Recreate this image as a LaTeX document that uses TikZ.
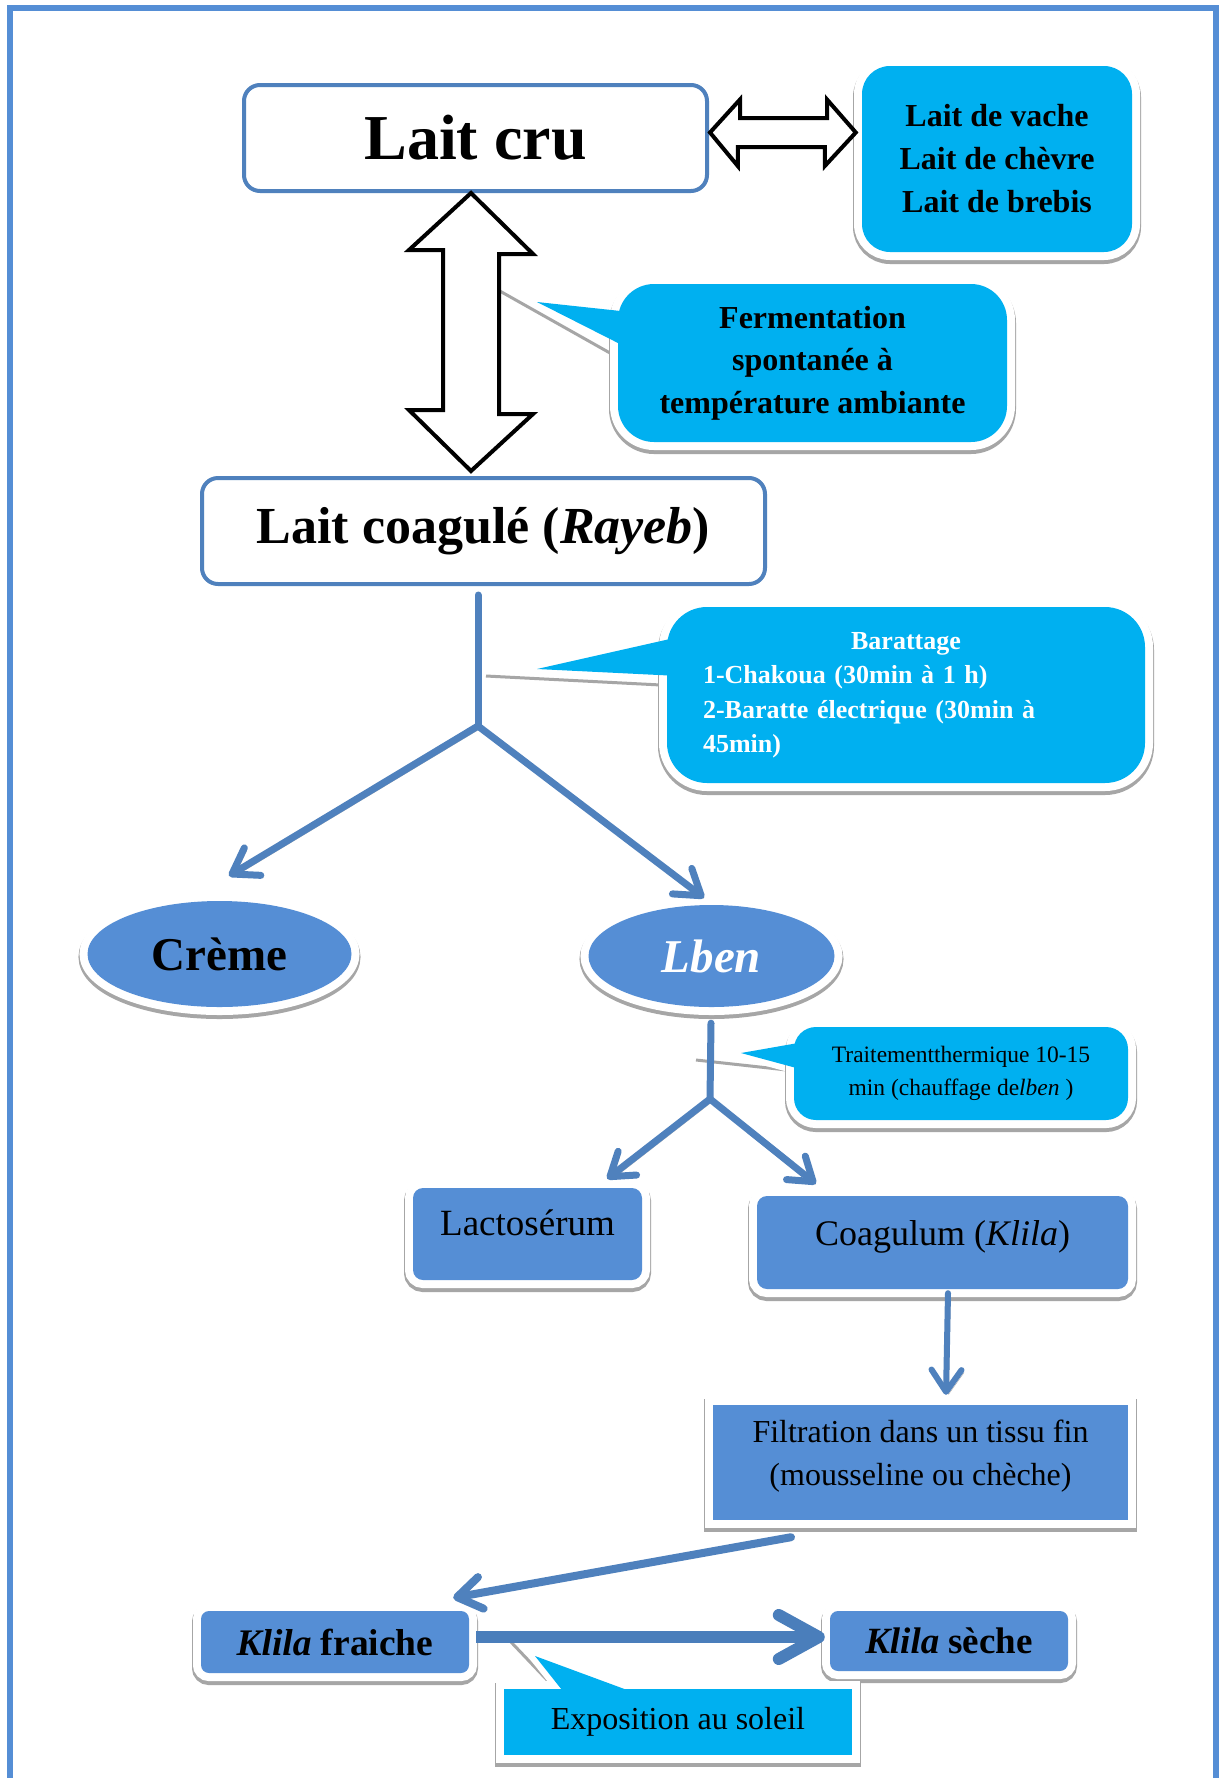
\documentclass[tikz,border=0pt]{standalone}
\usepackage{fontspec}
\setmainfont{Liberation Serif}
\usetikzlibrary{arrows.meta,calc,shapes.geometric}
\definecolor{accentblue}{HTML}{4F81BD}
\definecolor{paneblue}{HTML}{558ED5}
\definecolor{skyfill}{HTML}{00B0F0}
\definecolor{dropgray}{HTML}{A6A6A6}
\definecolor{darkline}{HTML}{4A7EBB}
\newcommand\fsz[2]{\fontsize{#1}{#2}\selectfont}
\pgfdeclarelayer{under}
\pgfsetlayers{under,main}

\begin{document}
\begin{tikzpicture}[x=1pt,y=-1pt,
  lifted/.style={
    preaction={fill=dropgray,draw=dropgray,line width=18pt,transform canvas={yshift=-3pt}},
    preaction={fill=white,draw=white,line width=16pt}},
  plainbox/.style={draw=accentblue,line width=4pt,fill=white,rounded corners=16pt,inner sep=0pt},
  skybox/.style={lifted,fill=skyfill,inner sep=0pt},
  panebox/.style={lifted,fill=paneblue,inner sep=0pt},
  hollow/.style={draw=black,line width=4pt,fill=white,line join=miter},
  flow/.style={draw=accentblue,line width=7pt,line cap=round,
    preaction={draw=dropgray,transform canvas={shift={(2.5pt,-2.5pt)}}}},
  tipsmall/.style={-{Straight Barb[length=22pt,width=30pt,round]}},
  tipmid/.style={-{Straight Barb[length=24pt,width=32pt,round]}},
  tipbig/.style={-{Straight Barb[length=40pt,width=44pt,round]}},
  wedgeglow/.style={fill=white,draw=white,line width=12pt,line join=round},
  wedgeshade/.style={draw=dropgray,line width=3pt},
  wedgefill/.style={fill=skyfill}
]
\useasboundingbox (0,0) rectangle (1219,1778);
\begin{pgfonlayer}{under}
  \fill[white] (0,0) rectangle (1219,1778);
\end{pgfonlayer}

% page frame, open at the bottom
\draw[paneblue,line width=6pt] (10,1778) -- (10,8) -- (1216,8) -- (1216,1778);

% ---------- boxes ----------
\node[plainbox,minimum width=463pt,minimum height=106pt,font=\fsz{64}{70}\bfseries]
  (laitcru) at (475.5,138) {Lait cru};
\node[skybox,rounded corners=28pt,minimum width=270pt,minimum height=186pt,
  align=center,font=\fsz{32}{43}\bfseries]
  (laits) at (997,159) {Lait de vache\\Lait de chèvre\\Lait de brebis};
\node[skybox,rounded corners=36pt,minimum width=389pt,minimum height=158pt,
  align=center,font=\fsz{32}{42.5}\bfseries]
  (ferment) at (812.5,363) {Fermentation\\spontanée à\\température ambiante};
\node[plainbox,minimum width=563pt,minimum height=106pt,font=\fsz{52}{60}\bfseries]
  (rayeb) at (483.5,531) {Lait coagulé (\textit{Rayeb})};
\node[skybox,rounded corners=40pt,minimum width=478pt,minimum height=176pt,
  align=left,text width=406pt,font=\fsz{26}{34.5}\bfseries,text=white]
  (baratt) at (906,695)
  {\makebox[406pt]{Barattage}\\1-Chakoua (30min à 1 h)\\2-Baratte électrique (30min à\\45min)};
\node[panebox,ellipse,minimum width=264pt,minimum height=106pt,font=\fsz{47}{52}\bfseries]
  (creme) at (219.5,954) {Crème};
\node[panebox,ellipse,minimum width=246pt,minimum height=102pt,font=\fsz{47}{52}\bfseries\itshape,text=white]
  (lben) at (711.5,956) {Lben};
\node[skybox,rounded corners=22pt,minimum width=334pt,minimum height=93pt,
  align=center,font=\fsz{23.5}{33}]
  (traite) at (961,1073.5) {Traitementthermique 10-15\\min (chauffage de\textit{lben} )};
\node[panebox,rounded corners=10pt,minimum width=229pt,minimum height=92pt,
  font=\fsz{37}{44},text height=25pt,text depth=23pt]
  (lacto) at (527.5,1234) {Lactosérum};
\node[panebox,rounded corners=10pt,minimum width=371pt,minimum height=93pt,
  font=\fsz{36}{44},text height=25pt,text depth=20pt]
  (coag) at (942.5,1242.5) {Coagulum (\textit{Klila})};
\node[panebox,minimum width=415pt,minimum height=115pt] (filtr) at (920.5,1462.5) {};
\node[align=center,font=\fsz{32}{43}] (filtrtext) at ($(filtr.center)+(0,-6)$)
  {Filtration dans un tissu fin\\(mousseline ou chèche)};
\node[panebox,rounded corners=8pt,minimum width=268pt,minimum height=62pt,font=\fsz{37.5}{44}\bfseries]
  (kfresh) at (335,1642) {\textit{Klila} fraiche};
\node[panebox,rounded corners=8pt,minimum width=238pt,minimum height=60pt,font=\fsz{37}{44}\bfseries]
  (kdry) at (949,1641) {\textit{Klila} sèche};
\node[skybox,minimum width=348pt,minimum height=66pt,font=\fsz{32}{40}]
  (expo) at (678,1722) {Exposition au soleil};

% ---------- hollow double arrows ----------
\coordinate (upTip) at ($(laitcru.south)+(-4.5,0)$);
\coordinate (downTip) at ($(rayeb.north)+(-12.5,-5)$);
\draw[hollow] (upTip) -- ++(62,61) -- ++(-34,0) -- ++(0,160) -- ++(34,0) -- (downTip)
  -- ++(-62,-61) -- ++(34,0) -- ++(0,-160) -- ++(-34,0) -- cycle;
\coordinate (leftTip) at ($(laitcru.east)+(1,-5.5)$);
\coordinate (rightTip) at ($(laits.west)+(-6,-26.5)$);
\draw[hollow] (leftTip) -- ++(30,-33) -- ++(0,18.5) -- ++(87,0) -- ++(0,-18.5) -- (rightTip)
  -- ++(-31,33.5) -- ++(0,-19) -- ++(-87,0) -- ++(0,19) -- cycle;

% ---------- flow connectors ----------
\coordinate (fork1) at (478,726);
\draw[flow] ($(rayeb.south)+(-5.5,9)$) -- (fork1);
\draw[flow,tipmid] (fork1) -- ($(creme.north)+(9.5,-25)$);
\draw[flow,tipmid] (fork1) -- ($(lben.north)+(-7.5,-7)$);

\coordinate (fork2) at (710,1099);
\draw[flow] ($(lben.south)+(-0.5,16)$) -- (fork2);
\draw[flow,tipsmall] (fork2) -- ($(lacto.north east)+(-35,-9)$);
\draw[flow,tipsmall] (fork2) -- ($(coag.north west)+(59,-12)$);

\draw[flow,line width=6pt,tipsmall] ($(coag.south)+(5.5,4)$) -- ($(filtr.north)+(25.5,-10)$);
\draw[flow,line width=8pt,tipmid] ($(filtr.south)+(-129.5,17)$) -- ($(kfresh.north east)+(-16,-13)$);
\draw[draw=darkline,line width=12pt,tipbig] ($(kfresh.east)+(7,-5)$) -- ($(kdry.west)+(-5,-4)$);

% ---------- callout pointers ----------
\coordinate (fermTip) at (537,302);
\coordinate (baraTip) at (537,669);
\coordinate (traiTip) at (741,1053);
\coordinate (expoTip) at (535,1656);
\begin{pgfonlayer}{under}
  \draw[wedgeshade] ($(fermTip)+(-39,-12)$) -- ($(fermTip)+(73,51)$);
  \draw[wedgeshade] ($(baraTip)+(-51,7)$) -- ($(baraTip)+(124,16)$);
  \draw[wedgeshade] ($(traiTip)+(-45,7)$) -- ($(traiTip)+(46,17)$);
  \draw[wedgeshade] ($(expoTip)+(-24,-14)$) -- ($(expoTip)+(14,26)$);
  \path[wedgeglow] (fermTip) -- ($(ferment.west)+(12,-51)$) -- ($(ferment.west)+(12,-14)$) -- cycle;
  \path[wedgeglow] (baraTip) -- ($(baratt.west)+(12,-58)$) -- ($(baratt.west)+(12,-19)$) -- cycle;
  \path[wedgeglow] (traiTip) -- ($(traite.west)+(10,-31.5)$) -- ($(traite.west)+(10,-3.5)$) -- cycle;
  \path[wedgeglow] (expoTip) -- ($(expo.north)+(-109,10)$) -- ($(expo.north)+(-27,10)$) -- cycle;
\end{pgfonlayer}
\fill[wedgefill] (fermTip) -- ($(ferment.west)+(12,-51)$) -- ($(ferment.west)+(12,-14)$) -- cycle;
\fill[wedgefill] (baraTip) -- ($(baratt.west)+(12,-58)$) -- ($(baratt.west)+(12,-19)$) -- cycle;
\fill[wedgefill] (traiTip) -- ($(traite.west)+(10,-31.5)$) -- ($(traite.west)+(10,-3.5)$) -- cycle;
\fill[wedgefill] (expoTip) -- ($(expo.north)+(-109,10)$) -- ($(expo.north)+(-27,10)$) -- cycle;
\end{tikzpicture}
\end{document}
